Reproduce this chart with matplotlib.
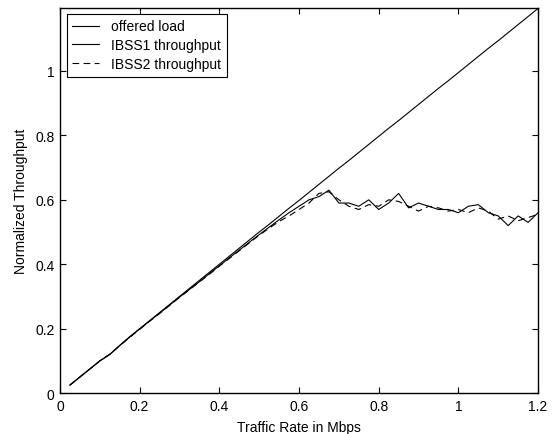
import matplotlib
matplotlib.use("Agg")
import matplotlib.pyplot as plt

plt.rcParams['font.family'] = ['Liberation Sans', 'DejaVu Sans']
plt.rcParams['font.size'] = 10

# traffic rate (Mbps)
rate = [0.025, 0.05, 0.075, 0.1, 0.125, 0.15, 0.175, 0.2, 0.225, 0.25,
        0.275, 0.3, 0.325, 0.35, 0.375, 0.4, 0.425, 0.45, 0.475, 0.5,
        0.525, 0.55, 0.575, 0.6, 0.625, 0.65, 0.675, 0.7, 0.725, 0.75,
        0.775, 0.8, 0.825, 0.85, 0.875, 0.9, 0.925, 0.95, 0.975, 1.0,
        1.025, 1.05, 1.075, 1.1, 1.125, 1.15, 1.175, 1.2]

offered = [0.025, 0.05, 0.075, 0.1, 0.12, 0.148, 0.175, 0.2, 0.225, 0.25,
           0.275, 0.3, 0.325, 0.35, 0.375, 0.4, 0.425, 0.45, 0.475, 0.5,
           0.524, 0.549, 0.574, 0.598, 0.623, 0.648, 0.673, 0.698, 0.722, 0.747,
           0.772, 0.797, 0.822, 0.846, 0.871, 0.896, 0.921, 0.946, 0.97, 0.995,
           1.02, 1.045, 1.07, 1.094, 1.119, 1.144, 1.169, 1.194]

ibss1 = [0.025, 0.05, 0.075, 0.1, 0.12, 0.148, 0.174, 0.199, 0.224, 0.248,
         0.273, 0.298, 0.322, 0.346, 0.371, 0.395, 0.42, 0.444, 0.468, 0.492,
         0.515, 0.538, 0.56, 0.58, 0.60, 0.61, 0.63, 0.59, 0.59, 0.58,
         0.60, 0.57, 0.59, 0.62, 0.575, 0.59, 0.58, 0.57, 0.57, 0.56,
         0.58, 0.585, 0.56, 0.55, 0.52, 0.55, 0.53, 0.56]

ibss2 = [0.025, 0.05, 0.075, 0.1, 0.121, 0.147, 0.173, 0.198, 0.223, 0.247,
         0.272, 0.297, 0.321, 0.345, 0.369, 0.394, 0.418, 0.442, 0.466, 0.49,
         0.512, 0.533, 0.55, 0.57, 0.59, 0.62, 0.625, 0.60, 0.58, 0.57,
         0.585, 0.58, 0.60, 0.595, 0.58, 0.565, 0.58, 0.575, 0.565, 0.57,
         0.56, 0.575, 0.565, 0.54, 0.55, 0.535, 0.545, 0.555]

fig = plt.figure(figsize=(5.53, 4.35), dpi=100)
ax = fig.add_axes([0.1085, 0.094, 0.8645, 0.885])

ax.plot(rate, offered, color='black', linewidth=0.8, label='offered load')
ax.plot(rate, ibss1, color='black', linewidth=0.8, label='IBSS1 throughput')
ax.plot(rate, ibss2, color='black', linewidth=0.8, linestyle=(0, (6, 4)),
        label='IBSS2 throughput')

ax.set_xlim(0, 1.2)
ax.set_ylim(0, 1.195)
ax.set_xticks([0, 0.2, 0.4, 0.6, 0.8, 1, 1.2])
ax.set_xticklabels(['0', '0.2', '0.4', '0.6', '0.8', '1', '1.2'])
ax.set_yticks([0, 0.2, 0.4, 0.6, 0.8, 1])
ax.set_yticklabels(['0', '0.2', '0.4', '0.6', '0.8', '1'])
ax.tick_params(direction='in', top=True, right=True, length=4, width=0.8, pad=4)
for s in ax.spines.values():
    s.set_linewidth(1.0)

ax.set_xlabel('Traffic Rate in Mbps', labelpad=5)
ax.set_ylabel('Normalized Throughput', labelpad=5)

leg = ax.legend(loc='upper left', bbox_to_anchor=(0.014, 0.985), fancybox=False,
                framealpha=1, edgecolor='black', handlelength=1.9,
                borderaxespad=0, labelspacing=0.35, borderpad=0.4, handletextpad=0.9)
leg.get_frame().set_linewidth(0.8)

plt.savefig('out.png', dpi=100)
